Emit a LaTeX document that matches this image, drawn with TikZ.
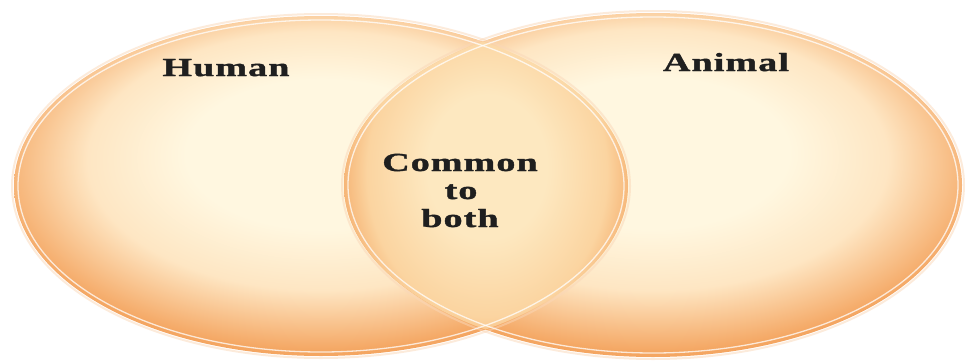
\documentclass[tikz,border=0pt]{standalone}
\usepackage{fontspec}
\setmainfont{Liberation Serif}
\newfontfamily\vennfont[LetterSpace=3,FakeBold=1.2]{Liberation Serif Bold}
\definecolor{vcream}{RGB}{255,247,224}
\definecolor{vpeach}{RGB}{254,230,195}
\definecolor{vorange}{RGB}{244,166,98}
\definecolor{lcenter}{RGB}{253,232,192}
\definecolor{lpeach}{RGB}{251,212,160}
\definecolor{lorange}{RGB}{242,158,88}
\pgfdeclareradialshading{vennshade}{\pgfpoint{0bp}{6bp}}{color(0bp)=(vcream); color(11bp)=(vcream); color(19bp)=(vpeach); color(27bp)=(vorange); color(50bp)=(vorange)}
\pgfdeclareradialshading{lensshade}{\pgfpoint{0bp}{4bp}}{color(0bp)=(lcenter); color(10bp)=(lcenter); color(20bp)=(lpeach); color(27bp)=(lorange); color(50bp)=(lorange)}
\newcommand{\vlabel}[1]{\scalebox{1.46}[1]{#1}}
\begin{document}
\begin{tikzpicture}[x=1pt,y=-1pt,
  setbox/.style={shading=vennshade},
  ringin/.style={draw=white,line width=1.3pt,opacity=0.75},
  ringout/.style={draw=vorange!45,line width=2pt,opacity=0.5},
  lbl/.style={font=\vennfont\fontsize{26}{28}\selectfont,text=black!88,align=center,inner sep=0pt}]
\useasboundingbox (0,0) rectangle (965,361);
\coordinate (hc) at (321,186);
\coordinate (ac) at (653,185);
% left and right sets
\shade[setbox] (hc) ellipse [x radius=307, y radius=170];
\shade[setbox] (ac) ellipse [x radius=309, y radius=172];
% overlap region
\begin{scope}
  \clip (hc) ellipse [x radius=307, y radius=170];
  \clip (ac) ellipse [x radius=309, y radius=172];
  \shade[shading=lensshade] (487,190) ellipse [x radius=150, y radius=180];
\end{scope}
% rings
\draw[ringout] (hc) ellipse [x radius=309, y radius=172];
\draw[ringout] (ac) ellipse [x radius=311, y radius=174];
\draw[ringin] (hc) ellipse [x radius=303, y radius=166];
\draw[ringin] (ac) ellipse [x radius=305, y radius=168];
% labels
\node[lbl,anchor=base] (human) at (226,76) {\vlabel{Human}};
\node[lbl,anchor=base] (animal) at (726,71) {\vlabel{Animal}};
\node[lbl,anchor=base] (common) at (460,171) {\vlabel{Common}};
\node[lbl,anchor=base] (to) at (461,199) {\vlabel{to}};
\node[lbl,anchor=base] (both) at (460,227) {\vlabel{both}};
\end{tikzpicture}
\end{document}
